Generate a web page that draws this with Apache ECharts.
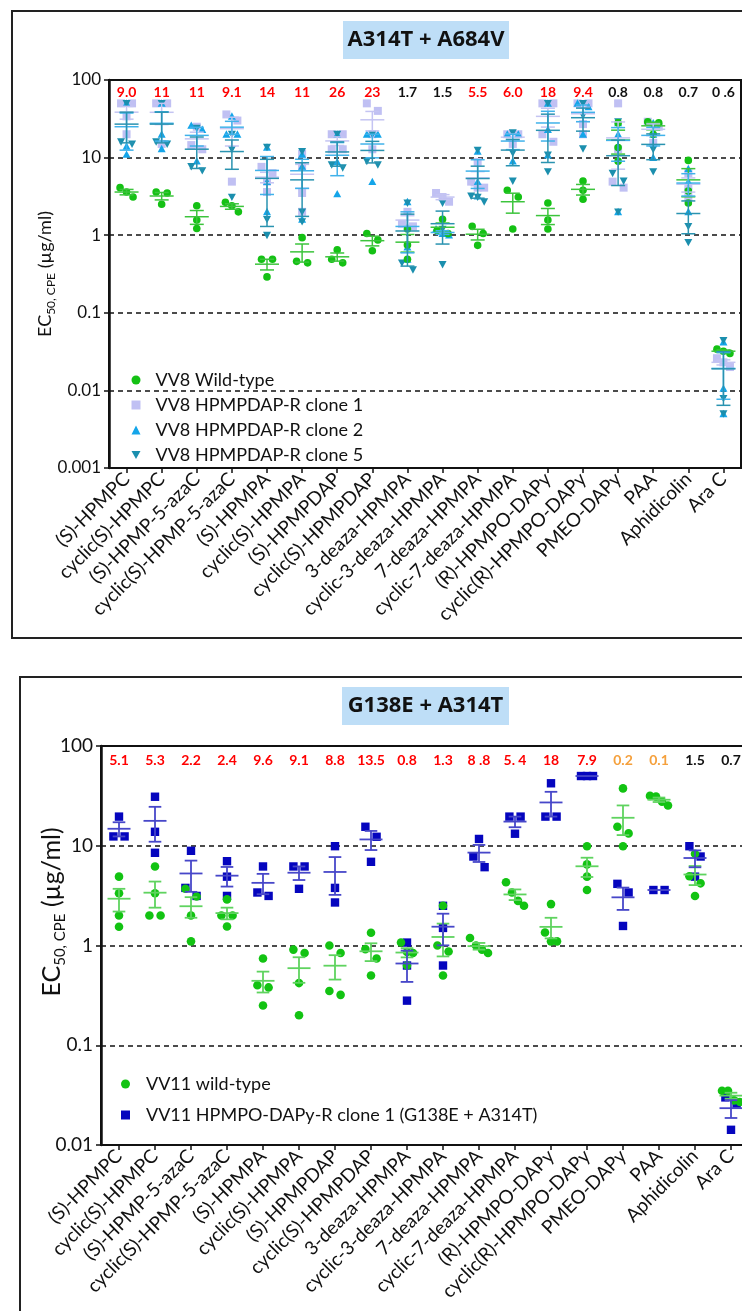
<!DOCTYPE html>
<html>
<head>
<meta charset="utf-8">
<script src="https://cdn.jsdelivr.net/npm/echarts@6/dist/echarts.min.js"></script>
<style>
  html, body { margin: 0; padding: 0; background: #fff; }
  #chart { width: 742px; height: 1311px; }
</style>
</head>
<body>
<div id="chart"></div>
<script>
// ---- categories (compounds) ----
const compounds = ['(S)-HPMPC', 'cyclic(S)-HPMPC', '(S)-HPMP-5-azaC', 'cyclic(S)-HPMP-5-azaC',
  '(S)-HPMPA', 'cyclic(S)-HPMPA', '(S)-HPMPDAP', 'cyclic(S)-HPMPDAP', '3-deaza-HPMPA',
  'cyclic-3-deaza-HPMPA', '7-deaza-HPMPA', 'cyclic-7-deaza-HPMPA', '(R)-HPMPO-DAPy',
  'cyclic(R)-HPMPO-DAPy', 'PMEO-DAPy', 'PAA', 'Aphidicolin', 'Ara C'];

// ---- y tick labels ----
const topTickLabels = ['0.001', '0.01', '0.1', '1', '10', '100'];
const bottomTickLabels = ['0.01', '0.1', '1', '10', '100'];

// ---- A314T + A684V panel: EC50 (µg/ml) per compound, individual experiments ----
const vv8WildType = [
  [4.1, 3.1, 3.6], [2.5, 3.6, 3.5], [2.4, 1.22, 1.57], [2.0, 2.65, 2.4],
  [0.49, 0.49, 0.29], [0.93, 0.44, 0.46], [0.65, 0.44, 0.49], [1.05, 0.87, 0.63],
  [1.2, 0.49, 0.75], [1.6, 1.15, 1.05], [1.3, 1.05, 0.74], [3.8, 3.1, 1.2],
  [2.6, 1.57, 1.2], [5.0, 3.8, 2.9], [28, 13.5, 9], [29, 28, 20],
  [9.2, 3.7, 2.6], [0.034, 0.032, 0.030]
];
const vv8Clone1 = [
  [50, 50, 34, 20], [50, 50, 15], [25, 14.5, 12.8], [36, 30, 4.9],
  [7.6, 6.3, 4.9, 3.6], [11.2, 7.7, 3.5, 2.0], [20, 20, 12.8, 12.8], [50, 40, 20, 12.8],
  [2.0, 1.4, 1.3], [3.5, 3.1, 2.7], [8.8, 4.9, 4.1, 4.1], [20, 20, 15],
  [50, 50, 20, 16], [50, 50, 27, 20], [50, 12.8, 4.9, 4.1], [29, 25, 15.5],
  [6.3, 4.2, 3.1], [0.026, 0.020, 0.023]
];
const vv8Clone2 = [
  [50, 14, 11], [50, 20, 13], [26, 23, 9], [34, 20, 20],
  [13.6, 4.9, 2.0], [11, 7.7, 1.6], [20, 8.8, 3.4], [20, 20, 4.9],
  [2.7, 0.7, 0.49], [1.2, 1.05, 1.0], [12, 4.9, 3.2], [20, 20, 9],
  [50, 23, 10.8], [50, 45, 20], [28, 20, 2.0], [28, 20, 10],
  [7.2, 4.9, 2.0], [0.042, 0.0106, 0.005]
];
const vv8Clone5 = [
  [50, 16, 15], [50, 16, 15], [24, 7.7, 6.8], [20, 12.8, 3.1],
  [13.6, 1.6, 1.0], [12, 2.0, 1.5], [20, 8.1, 7.4], [20, 9, 8.1],
  [2.6, 0.44, 0.36], [2.6, 1.2, 0.42], [12.5, 3.2, 3.1, 2.7], [21, 11.5, 5.0],
  [50, 10.8, 6.6], [50, 35, 13], [29, 6.3, 5.0, 2.0], [25, 12.8, 6.6],
  [3.6, 1.3, 0.81], [0.044, 0.0079, 0.005]
];
const vv8Fold = ['9.0', '11', '11', '9.1', '14', '11', '26', '23', '1.7', '1.5',
  '5.5', '6.0', '18', '9.4', '0.8', '0.8', '0.7', '0 .6'];
const vv8FoldClass = ['R', 'R', 'R', 'R', 'R', 'R', 'R', 'R', 'N', 'N',
  'R', 'R', 'R', 'R', 'N', 'N', 'N', 'N'];

// ---- G138E + A314T panel ----
const vv11WildType = [
  [4.9, 3.34, 2.0, 1.54], [6.2, 3.34, 2.0, 2.0], [3.7, 3.1, 2.0, 1.1], [2.9, 2.0, 2.0, 1.55],
  [0.74, 0.40, 0.38, 0.25], [0.91, 0.84, 0.42, 0.20], [1.0, 0.84, 0.35, 0.32], [1.34, 0.92, 0.74, 0.50],
  [1.07, 0.86, 0.84, 0.63], [2.5, 1.0, 0.87, 0.50], [1.19, 1.0, 0.91, 0.84], [4.3, 3.4, 2.8, 2.5],
  [2.6, 1.35, 1.1, 1.1], [9.9, 6.5, 4.9, 3.6], [37.6, 15.5, 13.3, 9.9], [31.6, 31.1, 27.7, 25.3],
  [8.3, 4.95, 4.2, 3.14], [0.035, 0.035, 0.028, 0.027]
];
const vv11Clone1 = [
  [19.6, 12.4, 12.4], [31, 13.8, 8.5], [8.9, 3.78, 3.14], [7.0, 4.9, 3.14],
  [6.2, 3.4, 3.14], [6.2, 6.2, 3.7], [9.9, 3.78, 2.7], [15.5, 12.3, 6.9],
  [1.07, 0.63, 0.28], [2.5, 1.5, 0.63], [11.7, 7.8, 6.1], [19.6, 19.6, 13.2],
  [42.3, 19.6, 19.6], [50, 50, 50], [4.15, 3.4, 1.57], [3.6, 3.6],
  [9.9, 7.8, 4.9], [0.030, 0.026, 0.0142]
];
const vv11Fold = ['5.1', '5.3', '2.2', '2.4', '9.6', '9.1', '8.8', '13.5', '0.8', '1.3',
  '8 .8', '5. 4', '18', '7.9', '0.2', '0.1', '1.5', '0.7'];
const vv11FoldClass = ['R', 'R', 'R', 'R', 'R', 'R', 'R', 'R', 'R', 'R',
  'R', 'R', 'R', 'R', 'H', 'H', 'N', 'N'];

// ---- layout and styling ----
const foldColors = { R: '#ff0000', N: '#111111', H: '#f5a03c' };
const gridTop = { left: 109, top: 80, width: 632, height: 388 };
const gridBottom = { left: 101, top: 746, width: 648, height: 399 };
const topDecadePx = gridTop.height / 5;
const bottomDecadePx = gridBottom.height / 4;

function mean(a) { return a.reduce((s, v) => s + v, 0) / a.length; }
function sem(a) {
  if (a.length < 2) return 0;
  const m = mean(a);
  const v = a.reduce((s, x) => s + (x - m) * (x - m), 0) / (a.length - 1);
  return Math.sqrt(v / a.length);
}

// Spread points that would overlap vertically (scatter dot plot layout)
function swarmOffsets(vals, pxPerDecade, gap, pairHalf, step) {
  const order = vals.map((v, i) => i).sort((a, b) => vals[b] - vals[a]);
  const py = v => -Math.log10(v) * pxPerDecade;
  const out = new Array(vals.length).fill(0);
  const flush = c => {
    const k = c.length;
    c.forEach((id, j) => {
      out[id] = k === 1 ? 0 : k === 2 ? (j === 0 ? -pairHalf : pairHalf) : (j - (k - 1) / 2) * step;
    });
  };
  let cluster = [order[0]];
  for (let n = 1; n < order.length; n++) {
    const prev = order[n - 1], cur = order[n];
    if (py(vals[cur]) - py(vals[prev]) < gap) cluster.push(cur);
    else { flush(cluster); cluster = [cur]; }
  }
  flush(cluster);
  return out;
}

function symbolEl(shape, x, y, size, color) {
  const h = size / 2;
  if (shape === 'circle') return { type: 'circle', shape: { cx: x, cy: y, r: h }, style: { fill: color } };
  if (shape === 'square') return { type: 'rect', shape: { x: x - h, y: y - h, width: size, height: size }, style: { fill: color } };
  if (shape === 'up') return { type: 'polygon', shape: { points: [[x, y - h], [x + h, y + h * 0.85], [x - h, y + h * 0.85]] }, style: { fill: color } };
  return { type: 'polygon', shape: { points: [[x - h, y - h * 0.85], [x + h, y - h * 0.85], [x, y + h]] }, style: { fill: color } };
}

function pointsSeries(name, axis, groups, shape, size, color, swarm) {
  const data = [];
  groups.forEach((vals, i) => {
    const offs = swarmOffsets(vals, swarm.px, swarm.gap, swarm.pair, swarm.step);
    vals.forEach((v, j) => data.push([i, v, offs[j]]));
  });
  return {
    type: 'custom', name, xAxisIndex: axis, yAxisIndex: axis, silent: true,
    itemStyle: { color }, data, encode: { x: 0, y: 1 },
    renderItem: (params, api) => {
      const p = api.coord([api.value(0), api.value(1)]);
      return symbolEl(shape, p[0] + api.value(2), p[1], size, color);
    }
  };
}

function meanSemSeries(name, axis, groups, color, halfMean, halfCap, lw) {
  const data = groups.map((vals, i) => {
    const m = mean(vals), s = sem(vals);
    return [i, m, Math.max(m - s, 1e-5), m + s];
  });
  return {
    type: 'custom', name, xAxisIndex: axis, yAxisIndex: axis, silent: true,
    data, encode: { x: 0, y: [1, 2, 3] },
    renderItem: (params, api) => {
      const i = api.value(0);
      const pm = api.coord([i, api.value(1)]);
      const pl = api.coord([i, api.value(2)]);
      const ph = api.coord([i, api.value(3)]);
      const x = pm[0];
      const st = { stroke: color, lineWidth: lw };
      const children = [{ type: 'line', shape: { x1: x - halfMean, y1: pm[1], x2: x + halfMean, y2: pm[1] }, style: st }];
      if (pl[1] - ph[1] > 0.5) {
        children.push({ type: 'line', shape: { x1: x, y1: pl[1], x2: x, y2: ph[1] }, style: st });
        children.push({ type: 'line', shape: { x1: x - halfCap, y1: pl[1], x2: x + halfCap, y2: pl[1] }, style: st });
        children.push({ type: 'line', shape: { x1: x - halfCap, y1: ph[1], x2: x + halfCap, y2: ph[1] }, style: st });
      }
      return { type: 'group', children };
    }
  };
}

function foldSeries(axis, labels, classes, dy) {
  return {
    type: 'custom', xAxisIndex: axis, yAxisIndex: axis, silent: true,
    data: labels.map((t, i) => [i, 1]), encode: { x: 0, y: 1 },
    renderItem: (params, api) => {
      const i = params.dataIndex;
      const x = api.coord([i, 1])[0];
      return {
        type: 'text', x, y: params.coordSys.y + dy,
        style: {
          text: labels[i], fill: foldColors[classes[i]], font: 'bold 14px Lato',
          align: 'center', verticalAlign: 'middle', textAlign: 'center', textVerticalAlign: 'middle'
        }
      };
    }
  };
}

function xAxisCfg(gridIndex) {
  return {
    type: 'category', gridIndex, data: compounds, boundaryGap: true,
    axisLine: { show: true, lineStyle: { color: '#111', width: 2 } },
    axisTick: { show: true, alignWithLabel: true, length: 5, lineStyle: { color: '#111', width: 1.5 } },
    axisLabel: { interval: 0, rotate: 45, margin: 8, color: '#111', fontFamily: 'Lato', fontSize: 19 },
    splitLine: { show: false }
  };
}

function yAxisCfg(gridIndex, min, max, labels, fontSize) {
  const minExp = Math.round(Math.log10(min));
  return {
    type: 'log', logBase: 10, gridIndex, min, max, splitNumber: labels.length - 1,
    axisLine: { show: true, lineStyle: { color: '#111', width: 2.5 } },
    axisTick: { show: true, length: 5, lineStyle: { color: '#111', width: 1.5 } },
    minorTick: { show: false },
    axisLabel: {
      margin: 8, color: '#111', fontFamily: 'Lato', fontSize,
      formatter: v => labels[Math.round(Math.log10(v)) - minExp]
    },
    splitLine: { show: true, lineStyle: { color: '#111', width: 1.6, type: [5, 4] } }
  };
}

const swarmTop = { px: topDecadePx, gap: 8, pair: 5.5, step: 6.5 };
const swarmBottom = { px: bottomDecadePx, gap: 11, pair: 5.6, step: 6 };

const topNames = ['VV8 Wild-type', 'VV8 HPMPDAP-R clone 1', 'VV8 HPMPDAP-R clone 2', 'VV8 HPMPDAP-R clone 5'];
const bottomNames = ['VV11 wild-type', 'VV11 HPMPO-DAPy-R clone 1 (G138E + A314T)'];

const series = [
  // A314T + A684V
  pointsSeries(topNames[1], 0, vv8Clone1, 'square', 8, '#c0c0f3', swarmTop),
  pointsSeries(topNames[2], 0, vv8Clone2, 'up', 8, '#14a5e9', swarmTop),
  pointsSeries(topNames[3], 0, vv8Clone5, 'down', 8, '#1b8fae', swarmTop),
  pointsSeries(topNames[0], 0, vv8WildType, 'circle', 7.6, '#14c114', swarmTop),
  meanSemSeries('VV8 Wild-type mean', 0, vv8WildType, '#3cc43c', 12, 7, 1.5),
  meanSemSeries('VV8 clone 1 mean', 0, vv8Clone1, '#c4c4f2', 12, 7, 1.5),
  meanSemSeries('VV8 clone 2 mean', 0, vv8Clone2, '#40b2ea', 12, 7, 1.5),
  meanSemSeries('VV8 clone 5 mean', 0, vv8Clone5, '#2a93b0', 12, 7, 1.5),
  foldSeries(0, vv8Fold, vv8FoldClass, 12),
  // G138E + A314T
  pointsSeries(bottomNames[1], 1, vv11Clone1, 'square', 8.4, '#0505be', swarmBottom),
  pointsSeries(bottomNames[0], 1, vv11WildType, 'circle', 8.6, '#12c312', swarmBottom),
  meanSemSeries('VV11 wild-type mean', 1, vv11WildType, '#5fd35f', 11.5, 6.3, 1.8),
  meanSemSeries('VV11 clone 1 mean', 1, vv11Clone1, '#4747c9', 11.5, 6.3, 1.8),
  foldSeries(1, vv11Fold, vv11FoldClass, 14)
];

const yNameRich = (big, small) => ({
  a: { fontSize: big, fontFamily: 'Lato', fill: '#111', color: '#111', lineHeight: big + 6, verticalAlign: 'middle' },
  b: { fontSize: small, fontFamily: 'Lato', fill: '#111', color: '#111', lineHeight: big + 6, verticalAlign: 'bottom' }
});

const option = {
  animation: false,
  backgroundColor: '#ffffff',
  grid: [
    Object.assign({ show: true, borderColor: '#111', borderWidth: 2, backgroundColor: 'transparent', containLabel: false, outerBoundsMode: 'none' }, gridTop),
    Object.assign({ show: true, borderColor: '#111', borderWidth: 2, backgroundColor: 'transparent', containLabel: false, outerBoundsMode: 'none' }, gridBottom)
  ],
  xAxis: [xAxisCfg(0), xAxisCfg(1)],
  yAxis: [yAxisCfg(0, 0.001, 100, topTickLabels, 17), yAxisCfg(1, 0.01, 100, bottomTickLabels, 19)],
  legend: [
    {
      orient: 'vertical', left: 126.5, top: 366, itemWidth: 9, itemHeight: 9, itemGap: 7,
      selectedMode: false,
      textStyle: { fontFamily: 'Lato', fontSize: 18, color: '#111', padding: [0, 0, 0, 10] },
      data: [
        { name: topNames[0], icon: 'circle' },
        { name: topNames[1], icon: 'rect' },
        { name: topNames[2], icon: 'triangle' },
        { name: topNames[3], icon: 'path://M0,0L10,0L5,9Z' }
      ]
    },
    {
      orient: 'vertical', left: 116, top: 1070, itemWidth: 9, itemHeight: 9, itemGap: 13,
      selectedMode: false,
      textStyle: { fontFamily: 'Lato', fontSize: 18, color: '#111', padding: [0, 0, 0, 11] },
      data: [
        { name: bottomNames[0], icon: 'circle' },
        { name: bottomNames[1], icon: 'rect' }
      ]
    }
  ],
  graphic: [
    // panel frames
    { type: 'rect', shape: { x: 12, y: 11, width: 780, height: 627 }, style: { fill: 'none', stroke: '#222', lineWidth: 2 }, silent: true },
    { type: 'rect', shape: { x: 20, y: 677, width: 780, height: 700 }, style: { fill: 'none', stroke: '#222', lineWidth: 2 }, silent: true },
    // panel titles
    { type: 'rect', shape: { x: 343, y: 21, width: 166, height: 38 }, style: { fill: '#bedef7' }, silent: true },
    { type: 'text', x: 426, y: 40, silent: true,
      style: { text: 'A314T + A684V', font: 'bold 22px "Open Sans"', fill: '#111', align: 'center', verticalAlign: 'middle', textAlign: 'center', textVerticalAlign: 'middle' } },
    { type: 'rect', shape: { x: 342, y: 687, width: 167, height: 38 }, style: { fill: '#bedef7' }, silent: true },
    { type: 'text', x: 425.5, y: 706, silent: true,
      style: { text: 'G138E + A314T', font: 'bold 22px "Open Sans"', fill: '#111', align: 'center', verticalAlign: 'middle', textAlign: 'center', textVerticalAlign: 'middle' } },
    // y-axis titles
    { type: 'text', x: 45, y: 274, rotation: Math.PI / 2, silent: true,
      style: { text: '{a|EC}{b|50, CPE}{a| (µg/ml)}', rich: yNameRich(18, 12), align: 'center', verticalAlign: 'middle', textAlign: 'center', textVerticalAlign: 'middle' } },
    { type: 'text', x: 52, y: 912, rotation: Math.PI / 2, silent: true,
      style: { text: '{a|EC}{b|50, CPE}{a| (µg/ml)}', rich: yNameRich(25, 15), align: 'center', verticalAlign: 'middle', textAlign: 'center', textVerticalAlign: 'middle' } }
  ],
  series
};

const chart = echarts.init(document.getElementById('chart'), null, { renderer: 'canvas', width: 742, height: 1311 });
chart.setOption(option);
</script>
</body>
</html>
